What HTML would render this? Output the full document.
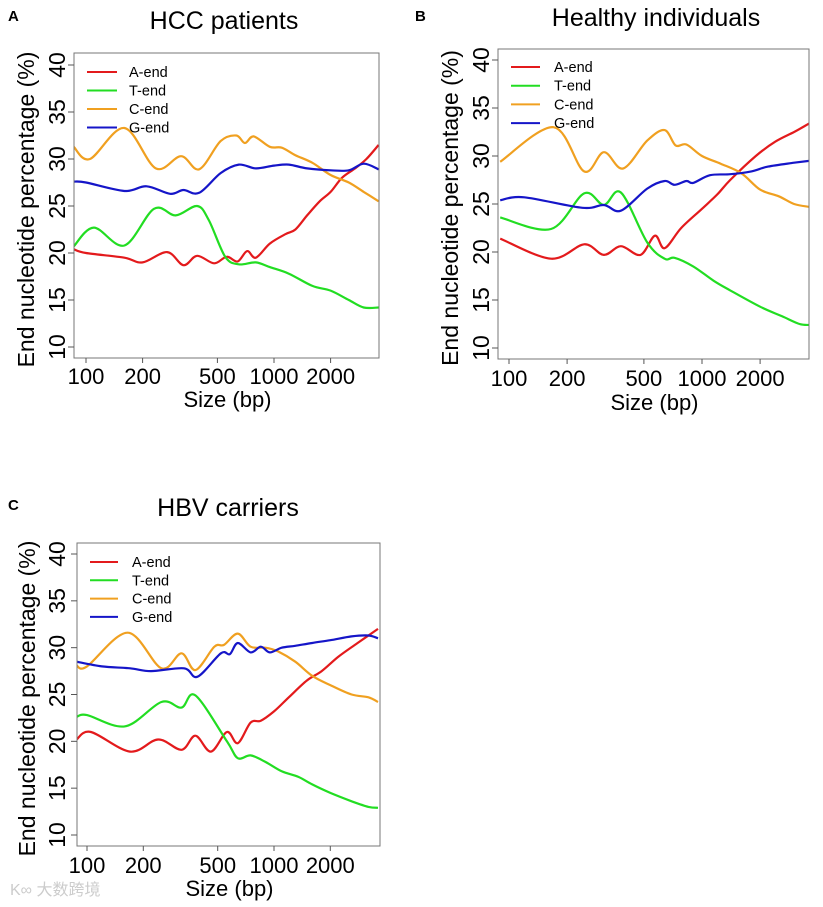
<!DOCTYPE html>
<html><head><meta charset="utf-8">
<style>
html,body{margin:0;padding:0;background:#fff;}
svg{display:block;font-family:"Liberation Sans",Arial,sans-serif;}
</style></head>
<body>
<svg id="fig" width="823" height="907" viewBox="0 0 823 907" xmlns="http://www.w3.org/2000/svg"></svg>
<script>
const seriesNames = ["A-end","T-end","C-end","G-end"];
const seriesColors = ["#e31a1c","#22dd22","#f0a020","#1515c8"];
const yTicks = [10,15,20,25,30,35,40];
const xTicks = [100,200,500,1000,2000];
const xTickLabels = ["100","200","500","1000","2000"];

// Panel A: HCC patients
const aRedX = [86,100,160,200,270,330,390,480,560,640,720,800,950,1150,1300,1500,1750,2000,2300,2700,3100,3600];
const aRedY = [20.4,20.0,19.5,19.0,20.1,18.7,19.7,18.9,19.6,19.1,20.2,19.5,21.0,22.0,22.5,24.0,25.5,26.5,28.0,29.0,30.0,31.5];
const aGrnX = [86,110,160,230,300,390,450,550,650,800,950,1200,1600,2000,2500,3000,3600];
const aGrnY = [20.7,22.7,20.8,24.7,24.0,25.0,23.5,19.6,18.8,19.0,18.5,17.8,16.5,16.0,15.0,14.2,14.2];
const aOrgX = [86,105,160,235,320,400,520,630,700,780,950,1100,1300,1600,2000,2500,3000,3600];
const aOrgY = [31.3,30.0,33.3,29.0,30.3,28.9,31.9,32.5,31.7,32.4,31.3,31.2,30.4,29.6,28.3,27.5,26.5,25.5];
const aBluX = [86,100,160,210,280,330,400,520,650,800,1000,1200,1500,2000,2500,3000,3600];
const aBluY = [27.6,27.5,26.6,27.1,26.3,26.7,26.4,28.5,29.4,29.0,29.3,29.4,29.0,28.8,28.8,29.5,28.9];

// Panel B: Healthy individuals
const bRedX = [90,165,245,310,380,480,570,640,780,1000,1200,1400,1900,2400,3000,3600];
const bRedY = [21.4,19.3,20.8,19.7,20.6,19.7,21.7,20.4,22.5,24.5,26.0,27.5,30.0,31.5,32.5,33.4];
const bGrnX = [90,165,245,310,380,520,640,720,900,1150,1400,2000,2600,3200,3600];
const bGrnY = [23.6,22.4,26.1,24.9,26.2,21.0,19.3,19.4,18.5,17.0,16.0,14.3,13.3,12.5,12.4];
const bOrgX = [90,170,245,310,390,520,640,730,830,1000,1250,1600,2000,2500,3000,3600];
const bOrgY = [29.4,33.0,28.4,30.4,28.7,31.6,32.7,31.1,31.2,30.0,29.2,28.2,26.5,25.8,25.0,24.7];
const bBluX = [90,120,240,310,380,520,640,720,830,900,1100,1400,1800,2200,3000,3600];
const bBluY = [25.4,25.7,24.6,24.9,24.3,26.6,27.4,27.0,27.4,27.2,28.0,28.1,28.4,28.9,29.3,29.5];

// Panel C: HBV carriers
const cRedX = [88,105,170,240,320,380,460,560,640,750,850,1000,1200,1500,1800,2200,2800,3600];
const cRedY = [20.2,21.0,18.9,20.2,19.1,20.6,18.9,21.0,19.8,22.0,22.2,23.2,24.7,26.5,27.5,29.0,30.5,32.0];
const cGrnX = [88,100,160,250,320,380,560,640,750,900,1100,1350,1600,2000,2600,3200,3600];
const cGrnY = [22.6,22.8,21.6,24.2,23.6,24.9,20.0,18.2,18.5,17.8,16.8,16.2,15.4,14.5,13.6,13.0,12.9];
const cOrgX = [88,100,165,250,320,380,480,540,640,750,900,1050,1300,1600,2000,2600,3200,3600];
const cOrgY = [28.1,28.0,31.6,27.8,29.4,27.6,30.1,30.3,31.5,30.1,30.0,29.6,28.5,27.0,26.0,25.0,24.7,24.2];
const cBluX = [88,120,170,220,330,390,520,580,640,750,850,950,1100,1300,1600,2000,2600,3200,3600];
const cBluY = [28.5,28.0,27.8,27.5,27.8,26.9,29.4,29.3,30.5,29.5,30.1,29.5,30.0,30.2,30.5,30.8,31.2,31.3,31.0];

const panels = [
 {id:"a",letter:"A",title:"HCC patients",bx0:74,bx1:379,by0:53,by1:358,y40:65,y10:347,x100:86,dec:188,
  lx0:87,lx1:117,ltx:129,ly:72,lsp:18.5,tx:224,ty:29,letx:8,lety:21,ytl:65,ytitle:34,xtl:384,xtitle:407,
  xs:[aRedX,aGrnX,aOrgX,aBluX],ys:[aRedY,aGrnY,aOrgY,aBluY]},
 {id:"b",letter:"B",title:"Healthy individuals",bx0:498,bx1:809,by0:49,by1:359,y40:60,y10:348,x100:509,dec:193,
  lx0:511,lx1:540,ltx:554,ly:67,lsp:18.7,tx:656,ty:26,letx:415,lety:21,ytl:489,ytitle:458,xtl:386,xtitle:410,
  xs:[bRedX,bGrnX,bOrgX,bBluX],ys:[bRedY,bGrnY,bOrgY,bBluY]},
 {id:"c",letter:"C",title:"HBV carriers",bx0:77,bx1:380,by0:543,by1:846,y40:554,y10:835,x100:87,dec:187,
  lx0:90,lx1:118,ltx:132,ly:562,lsp:18.3,tx:228,ty:516,letx:8,lety:510,ytl:65,ytitle:35,xtl:873,xtitle:896,
  xs:[cRedX,cGrnX,cOrgX,cBluX],ys:[cRedY,cGrnY,cOrgY,cBluY]}
];

const NS="http://www.w3.org/2000/svg";
const fig=document.getElementById("fig");
function mk(tag,attrs,parent){const e=document.createElementNS(NS,tag);for(const k in attrs)e.setAttribute(k,attrs[k]);(parent||fig).appendChild(e);return e;}

function smoothPath(pts){
  let d="M"+pts[0][0].toFixed(1)+","+pts[0][1].toFixed(1);
  for(let i=0;i<pts.length-1;i++){
    const p0=pts[Math.max(0,i-1)],p1=pts[i],p2=pts[i+1],p3=pts[Math.min(pts.length-1,i+2)];
    const c1x=p1[0]+(p2[0]-p0[0])/6,c1y=p1[1]+(p2[1]-p0[1])/6;
    const c2x=p2[0]-(p3[0]-p1[0])/6,c2y=p2[1]-(p3[1]-p1[1])/6;
    d+=" C"+c1x.toFixed(1)+","+c1y.toFixed(1)+" "+c2x.toFixed(1)+","+c2y.toFixed(1)+" "+p2[0].toFixed(1)+","+p2[1].toFixed(1);
  }
  return d;
}

panels.forEach(p=>{
  const g=mk("g",{});
  
  
  const xs=v=>p.x100+(Math.log10(v)-2)*p.dec;
  const ys=v=>p.y10-(v-10)*(p.y10-p.y40)/30;

  const letter=mk("text",{x:p.letx,y:p.lety,"font-size":15,"font-weight":"bold",fill:"#000"},g);
  letter.textContent=p.letter;
  
  

  const title=mk("text",{x:p.tx,y:p.ty,"font-size":25,"text-anchor":"middle",fill:"#000"},g);
  title.textContent=p.title;
  
  

  const cp=mk("clipPath",{id:"clip"+p.id},g);
  mk("rect",{x:p.bx0,y:p.by0,width:p.bx1-p.bx0,height:p.by1-p.by0},cp);

  const lines=mk("g",{"clip-path":"url(#clip"+p.id+")"},g);
  p.xs.forEach((xa,si)=>{
    const pts=xa.map((x,i)=>[xs(x),ys(p.ys[si][i])]);
    const path=mk("path",{d:smoothPath(pts),fill:"none",stroke:seriesColors[si],"stroke-width":2.2,"stroke-linejoin":"round"},lines);
    
    
  });

  const box=mk("rect",{x:p.bx0,y:p.by0,width:p.bx1-p.bx0,height:p.by1-p.by0,fill:"none",stroke:"#777","stroke-width":1},g);
  
  

  yTicks.forEach(t=>{
    const y=ys(t);
    const tk=mk("line",{x1:p.bx0-6,x2:p.bx0,y1:y,y2:y,stroke:"#555","stroke-width":1},g);
    
    
    const lb=mk("text",{transform:"translate("+p.ytl+","+y+") rotate(-90)","font-size":23,"text-anchor":"middle",fill:"#000"},g);
    lb.textContent=String(t);
    
    
  });
  xTicks.forEach((t,i)=>{
    const x=xs(t);
    const tk=mk("line",{x1:x,x2:x,y1:p.by1,y2:p.by1+5,stroke:"#555","stroke-width":1},g);
    
    
    const lb=mk("text",{x:x,y:p.xtl,"font-size":22,"text-anchor":"middle",fill:"#000"},g);
    lb.textContent=xTickLabels[i];
    
    
  });
  const xt=mk("text",{x:(p.bx0+p.bx1)/2+1,y:p.xtitle,"font-size":22,"text-anchor":"middle",fill:"#000"},g);
  xt.textContent="Size (bp)";
  
  
  const yt=mk("text",{transform:"translate("+p.ytitle+","+((p.by0+p.by1)/2+4)+") rotate(-90)","font-size":23,"text-anchor":"middle",fill:"#000"},g);
  yt.textContent="End nucleotide percentage (%)";
  
  

  seriesNames.forEach((n,i)=>{
    const y=p.ly+i*p.lsp;
    const le=mk("g",{},g);
    
    
    mk("line",{x1:p.lx0,x2:p.lx1,y1:y,y2:y,stroke:seriesColors[i],"stroke-width":2},le);
    const t=mk("text",{x:p.ltx,y:y+5,"font-size":14.5,fill:"#000"},le);
    t.textContent=n;
  });
});

const wm=mk("text",{x:10,y:895,"font-size":16,fill:"#ccc","font-family":"'Liberation Sans','Noto Sans CJK SC',sans-serif"});
wm.textContent="K∞ 大数跨境";


</script>
</body></html>
